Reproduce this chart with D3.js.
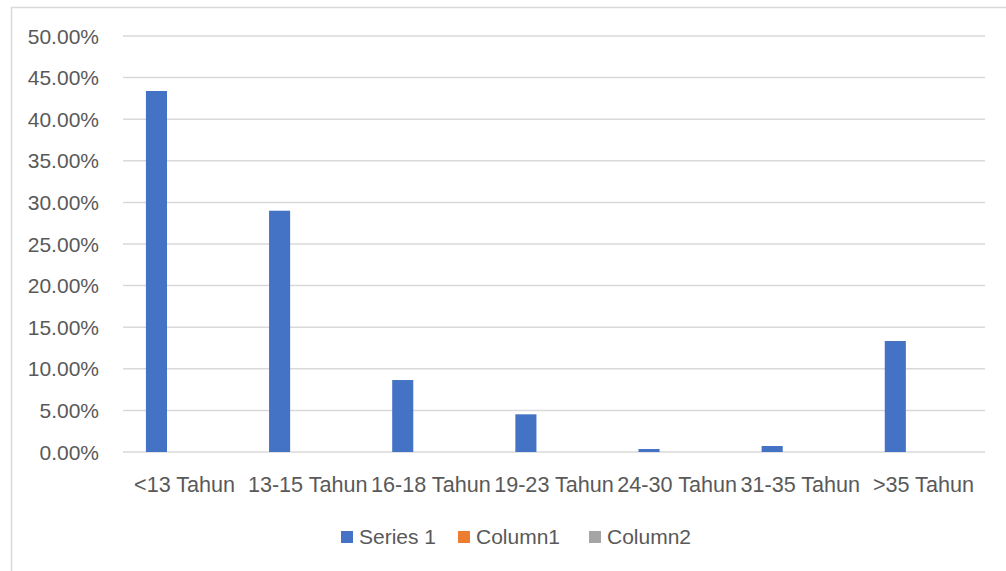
<!DOCTYPE html>
<html>
<head>
<meta charset="utf-8">
<script src="https://cdn.jsdelivr.net/npm/d3@7"></script>
<style>
html,body{margin:0;padding:0;background:#fff;overflow:hidden;}
svg{display:block;}
</style>
</head>
<body>
<svg id="chart" width="1006" height="571"></svg>
<script>
const categories = ["<13 Tahun","13-15 Tahun","16-18 Tahun","19-23 Tahun","24-30 Tahun","31-35 Tahun",">35 Tahun"];
const seriesNames = ["Series 1","Column1","Column2"];
const series1 = [0.4339, 0.2900, 0.0865, 0.0453, 0.0036, 0.0072, 0.1334];
const column1 = [0,0,0,0,0,0,0];
const column2 = [0,0,0,0,0,0,0];
const yTicks = [0,0.05,0.10,0.15,0.20,0.25,0.30,0.35,0.40,0.45,0.50];
const colors = ["#4472C4","#ED7D31","#A5A5A5"];

const seriesValues = [series1, column1, column2];
const svg = d3.select("#chart");
const font = "'Liberation Sans', Arial, sans-serif";
const textColor = "#595959";

// chart border
svg.append("rect").attr("x",11.5).attr("y",7.5).attr("width",1100).attr("height",700)
  .attr("fill","#fff").attr("stroke","#D9D9D9").attr("stroke-width",1.5);

const plot = {left:123, right:985, top:36, bottom:452};
const x = d3.scaleBand().domain(categories).range([plot.left, plot.right]).padding(0);
const xs = d3.scaleBand().domain(seriesNames).range([0, x.bandwidth()]).paddingInner(0.25).paddingOuter(0.815);
const y = d3.scaleLinear().domain([0,0.5]).range([plot.bottom, plot.top]);

// gridlines
svg.append("g").selectAll("line").data(yTicks).join("line")
  .attr("x1",plot.left).attr("x2",plot.right)
  .attr("y1",d=>y(d)).attr("y2",d=>y(d))
  .attr("stroke","#D9D9D9").attr("stroke-width",1.5);

// y tick labels
svg.append("g").selectAll("text").data(yTicks).join("text")
  .attr("x",99).attr("y",d=>y(d)).attr("dy","0.36em")
  .attr("text-anchor","end").attr("font-family",font).attr("font-size",21)
  .attr("fill",textColor).text(d=>d3.format(".2%")(d));

// bars
seriesValues.forEach((vals,si)=>{
  svg.append("g").selectAll("rect").data(vals).join("rect")
    .attr("x",(d,i)=>x(categories[i]) + xs(seriesNames[si]))
    .attr("width",xs.bandwidth())
    .attr("y",d=>y(d))
    .attr("height",d=>y(0)-y(d))
    .attr("fill",colors[si]);
});

// x labels
svg.append("g").selectAll("text").data(categories).join("text")
  .attr("x",d=>x(d)+x.bandwidth()/2).attr("y",492)
  .attr("text-anchor","middle").attr("font-family",font).attr("font-size",21.6)
  .attr("fill",textColor).text(d=>d);

// legend
const legendX = [341, 458, 589];
const lg = svg.append("g");
seriesNames.forEach((n,i)=>{
  lg.append("rect").attr("x",legendX[i]).attr("y",531).attr("width",12).attr("height",12).attr("fill",colors[i]);
  lg.append("text").attr("x",legendX[i]+18).attr("y",544)
    .attr("font-family",font).attr("font-size",21).attr("fill",textColor).text(n);
});
</script>
</body>
</html>
